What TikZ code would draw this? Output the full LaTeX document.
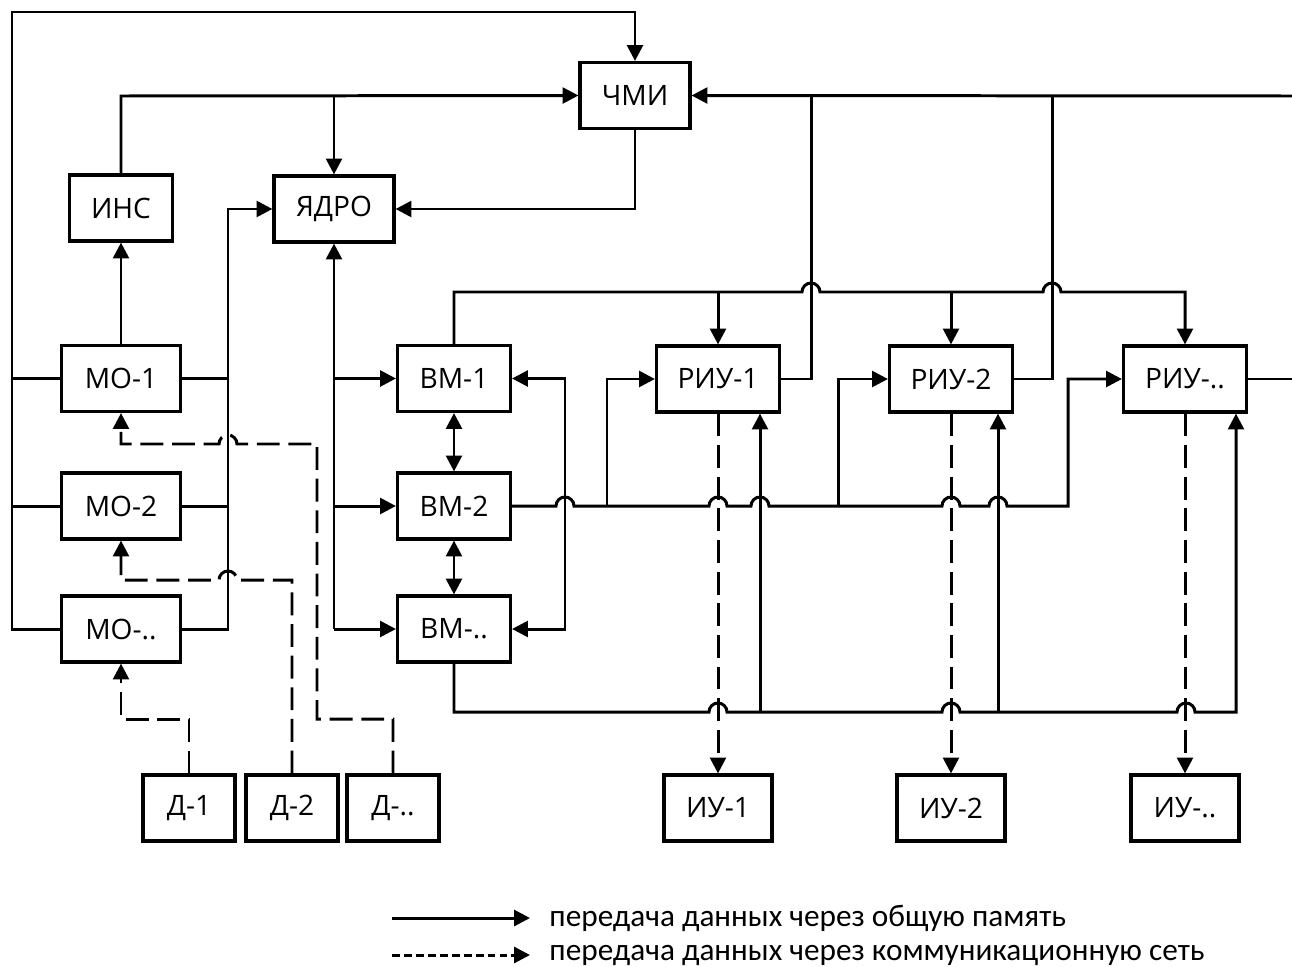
\documentclass[tikz,border=0pt]{standalone}
\usepackage{fontspec}
\setmainfont{Open Sans}
\newfontfamily\legendfont{Carlito}
\usetikzlibrary{arrows.meta}
\tikzset{
  box/.style={draw, line width=1.8pt, minimum height=1.32cm, inner sep=0pt, font=\fontsize{16}{18}\selectfont},
  arr/.style={-{Triangle[length=9pt,width=9pt]}},
  arrr/.style={{Triangle[length=9pt,width=9pt]}-{Triangle[length=9pt,width=9pt]}},
  dsh/.style={dash pattern=on 13pt off 5pt},
  legdsh/.style={dash pattern=on 4.5pt off 2.3pt},
  legtext/.style={anchor=west, inner sep=0pt, font=\legendfont\fontsize{17.8}{19}\selectfont}
}
\begin{document}
\begin{tikzpicture}[x=0.02cm,y=-0.02cm,line width=1.7pt]
\useasboundingbox (0,0) rectangle (1292,967);
% nodes
\node[box, minimum width=2.2cm]  (chmi)  at (635,95.5) {ЧМИ};
\node[box, minimum width=2.06cm] (ins)   at (121,208)  {ИНС};
\node[box, minimum width=2.4cm]  (yadro) at (334,209)  {ЯДРО};
\node[box, minimum width=2.38cm] (mo1)   at (121,378.5) {МО-1};
\node[box, minimum width=2.38cm] (mo2)   at (121,506)  {МО-2};
\node[box, minimum width=2.38cm] (mon)   at (121,629)  {МО-..};
\node[box, minimum width=2.26cm] (vm1)   at (454,378.5) {ВМ-1};
\node[box, minimum width=2.26cm] (vm2)   at (454,506)  {ВМ-2};
\node[box, minimum width=2.26cm] (vmn)   at (454,629)  {ВМ-..};
\node[box, minimum width=2.46cm] (riu1)  at (718,379)  {РИУ-1};
\node[box, minimum width=2.46cm] (riu2)  at (951,379)  {РИУ-2};
\node[box, minimum width=2.46cm] (riun)  at (1185,379) {РИУ-..};
\node[box, minimum width=1.84cm] (d1)    at (189,808)  {Д-1};
\node[box, minimum width=1.84cm] (d2)    at (292,808)  {Д-2};
\node[box, minimum width=1.84cm] (dn)    at (393,808)  {Д-..};
\node[box, minimum width=2.16cm] (iu1)   at (718,808)  {ИУ-1};
\node[box, minimum width=2.16cm] (iu2)   at (951,808)  {ИУ-2};
\node[box, minimum width=2.16cm] (iun)   at (1185,808) {ИУ-..};
% junction coordinates
\coordinate (jins) at (334,96);
\coordinate (re) at (1292,96);
\coordinate (rr) at (1292,379);
% outer loop from MO to CHMI
\draw[arr] (mon.west) -- (12,629) -- (12,12) -- (635,12) -- (chmi.north);
\draw (mo1.west) -- (12,378.5);
\draw (mo2.west) -- (12,506);
% INS -> CHMI, branch to YADRO
\draw[arr] (ins.north) -- (121,96) -- (chmi.west);
\draw[arr] (jins) -- (yadro.north);
\draw[arr] (mo1.north) -- (ins.south);
% CHMI -> YADRO
\draw[arr] (chmi.south) |- (yadro.east);
% right bus
\draw[arr] (re) -- (chmi.east);
\draw (riu1.east) -| (811,96);
\draw (riu2.east) -| (1052,96);
\draw (riun.east) -- (rr);
% upper bus
\draw[arr] (vm1.north) -- (454,292) -- (802,292) arc[start angle=180,end angle=360,radius=9]
  -- (1043,292) arc[start angle=180,end angle=360,radius=9] -- (1185,292) -- (riun.north);
\draw[arr] (718,292) -- (riu1.north);
\draw[arr] (951,292) -- (riu2.north);
% MO right bus
\draw[arr] (mon.east) -- (228,629) -- (228,209) -- (yadro.west);
\draw (mo1.east) -- (228,378.5);
\draw (mo2.east) -- (228,506);
% YADRO bus
\draw[arr] (334,629) -- (yadro.south);
\draw[arr] (334,378.5) -- (vm1.west);
\draw[arr] (334,506) -- (vm2.west);
\draw[arr] (334,629) -- (vmn.west);
% VM double arrows
\draw[arrr] (vm1.south) -- (vm2.north);
\draw[arrr] (vm2.south) -- (vmn.north);
% bracket
\draw[arrr] (vm1.east) -- (565,378.5) -- (565,629) -- (vmn.east);
% VM-2 bus
\draw[arr] (vm2.east) -- (556,506) arc[start angle=180,end angle=360,radius=9]
  -- (709,506) arc[start angle=180,end angle=360,radius=9]
  -- (751,506) arc[start angle=180,end angle=360,radius=9]
  -- (942,506) arc[start angle=180,end angle=360,radius=9]
  -- (989,506) arc[start angle=180,end angle=360,radius=9]
  -- (1068,506) |- (riun.west);
\draw[arr] (607,506) |- (riu1.west);
\draw[arr] (838,506) |- (riu2.west);
% VM-.. bus
\draw[arr] (vmn.south) -- (454,712) -- (709,712) arc[start angle=180,end angle=360,radius=9]
  -- (942,712) arc[start angle=180,end angle=360,radius=9]
  -- (1177,712) arc[start angle=180,end angle=360,radius=9]
  -- (1236,712) -- (riun.south -| 1236,0);
\draw[arr] (760,712) -- (riu1.south -| 760,0);
\draw[arr] (998,712) -- (riu2.south -| 998,0);
% dashed RIU -> IU
\draw[arr,dsh] (riu1.south) -- (iu1.north);
\draw[arr,dsh] (riu2.south) -- (iu2.north);
\draw[arr,dsh] (riun.south) -- (iun.north);
% dashed D -> MO
\draw[arr,dsh] (d1.north) -- (189,719) -- (121,719) -- (mon.south);
\draw[arr,dsh] (d2.north) -- (292,580) -- (237,580) arc[start angle=0,end angle=-180,radius=9] -- (121,580) -- (mo2.south);
\draw[arr,dsh] (dn.north) -- (393,719) -- (317,719) -- (317,444) -- (237,444) arc[start angle=0,end angle=-180,radius=9] -- (121,444) -- (mo1.south);
% legend
\coordinate (la1) at (392,918); \coordinate (la2) at (530,918);
\coordinate (lb1) at (392,955); \coordinate (lb2) at (530,955);
\draw[arr] (la1) -- (la2);
\draw[arr,legdsh] (lb1) -- (lb2);
\node[legtext] (t1) at (548,918) {передача данных через общую память};
\node[legtext] (t2) at (548,955) {передача данных через коммуникационную сеть};
\end{tikzpicture}
\end{document}
